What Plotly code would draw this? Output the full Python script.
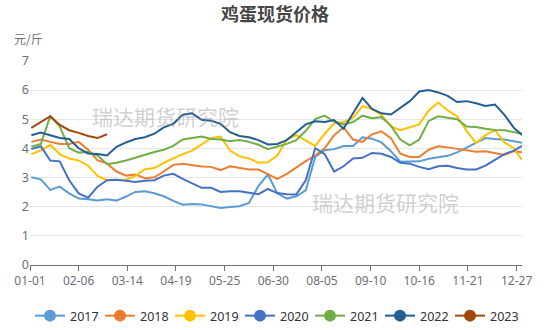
import plotly.graph_objects as go

# ---- data (weekly readings, day-of-year index; 0 = 01-01) ----
days = [1, 8, 15, 22, 29, 36, 43, 50, 57, 64, 71, 78, 85, 92, 99, 106, 113, 120, 127, 134,
        141, 148, 155, 162, 169, 176, 183, 190, 197, 204, 211, 218, 225, 232, 239, 246, 253,
        260, 267, 274, 281, 288, 295, 302, 309, 316, 323, 330, 337, 344, 351, 358, 364]

y2017 = [3.0, 2.93, 2.57, 2.68, 2.45, 2.27, 2.25, 2.2, 2.25, 2.2, 2.34, 2.5, 2.52, 2.45, 2.35,
         2.19, 2.06, 2.08, 2.07, 2.0, 1.95, 1.98, 2.01, 2.12, 2.7, 3.1, 2.45, 2.27, 2.35, 2.55,
         3.7, 3.93, 3.97, 4.08, 4.08, 4.38, 4.33, 4.2, 3.9, 3.54, 3.54, 3.55, 3.64, 3.7, 3.74,
         3.86, 4.02, 4.2, 4.35, 4.32, 4.3, 4.24, 4.19]
y2018 = [4.22, 4.3, 4.22, 4.15, 4.15, 4.22, 3.95, 3.58, 3.48, 3.2, 3.06, 3.1, 2.97, 3.0, 3.2,
         3.43, 3.47, 3.43, 3.37, 3.36, 3.25, 3.38, 3.32, 3.27, 3.27, 3.1, 2.95, 3.12, 3.35, 3.56,
         3.75, 4.0, 4.45, 4.72, 4.3, 4.22, 4.48, 4.58, 4.35, 3.81, 3.7, 3.7, 3.95, 4.07, 4.03,
         3.98, 3.93, 3.88, 3.9, 3.83, 3.77, 3.9, 3.86]
y2019 = [3.8, 3.93, 4.12, 3.8, 3.65, 3.58, 3.4, 3.05, 2.9, 2.92, 2.92, 3.05, 3.28, 3.32, 3.5,
         3.65, 3.8, 3.92, 4.12, 4.35, 4.4, 3.92, 3.72, 3.65, 3.5, 3.52, 3.75, 4.3, 4.45, 4.25,
         4.08, 4.5, 4.85, 4.9, 5.05, 5.45, 5.35, 5.15, 4.75, 4.62, 4.72, 4.82, 5.3, 5.57, 5.3,
         5.1, 4.6, 4.18, 4.45, 4.62, 4.2, 4.0, 3.6]
y2020 = [3.97, 4.07, 3.58, 3.55, 2.9, 2.45, 2.3, 2.68, 2.9, 2.92, 2.88, 2.84, 2.88, 2.9, 3.06,
         3.12, 2.95, 2.8, 2.64, 2.64, 2.5, 2.52, 2.52, 2.47, 2.42, 2.6, 2.46, 2.42, 2.41, 2.9,
         4.0, 3.8, 3.2, 3.38, 3.65, 3.67, 3.84, 3.81, 3.7, 3.5, 3.47, 3.36, 3.28, 3.38, 3.4,
         3.32, 3.27, 3.27, 3.4, 3.6, 3.8, 3.92, 4.08]
y2021 = [4.05, 4.15, 5.1, 4.75, 4.0, 3.85, 3.87, 3.75, 3.45, 3.5, 3.58, 3.68, 3.78, 3.87, 3.95,
         4.08, 4.3, 4.35, 4.4, 4.32, 4.3, 4.24, 4.28, 4.22, 4.12, 3.97, 4.05, 4.15, 4.28, 4.6,
         5.0, 5.12, 4.92, 4.82, 4.9, 5.12, 5.03, 5.07, 4.78, 4.3, 4.1, 4.3, 4.94, 5.1, 5.05,
         5.0, 4.75, 4.73, 4.67, 4.63, 4.62, 4.55, 4.5]
y2022 = [4.45, 4.54, 4.45, 4.35, 4.32, 4.0, 3.82, 3.8, 3.75, 4.05, 4.2, 4.32, 4.38, 4.5, 4.72,
         4.84, 5.15, 5.2, 4.98, 4.95, 4.84, 4.55, 4.42, 4.38, 4.28, 4.13, 4.15, 4.28, 4.55, 4.82,
         4.93, 4.9, 4.97, 4.67, 5.2, 5.73, 5.35, 5.2, 5.16, 5.4, 5.62, 5.95, 6.0, 5.92, 5.8,
         5.59, 5.62, 5.55, 5.45, 5.5, 5.15, 4.7, 4.46]
y2023 = [4.7, 4.9, 5.1, 4.8, 4.62, 4.53, 4.42, 4.35, 4.48]

series_names = ["2017", "2018", "2019", "2020", "2021", "2022", "2023"]
series_values = [y2017, y2018, y2019, y2020, y2021, y2022, y2023]
colors = ["#5B9BD5", "#ED7D31", "#FFC000", "#4472C4", "#70AD47", "#255E91", "#9E480E"]

tick_days = [0, 36, 72, 108, 144, 180, 216, 252, 288, 324, 360]
tick_labels = ["01-01", "02-06", "03-14", "04-19", "05-25", "06-30",
               "08-05", "09-10", "10-16", "11-21", "12-27"]

CJK = "Noto Sans CJK SC, Noto Sans, sans-serif"
LAT = "Noto Sans, Liberation Sans, sans-serif"
GRAY = "#6E7079"

fig = go.Figure()
for name, vals, col in zip(series_names, series_values, colors):
    fig.add_trace(go.Scatter(x=days[:len(vals)], y=vals, mode="lines", name=name,
                             line=dict(color=col, width=2), showlegend=False,
                             hoverinfo="skip"))
# legend entries (line + circle icon)
for name, col in zip(series_names, colors):
    fig.add_trace(go.Scatter(x=[None], y=[None], mode="lines+markers", name=name,
                             line=dict(color=col, width=2),
                             marker=dict(color=col, size=12)))

fig.update_layout(
    width=550, height=330,
    margin=dict(l=30, r=28, t=61, b=52),
    paper_bgcolor="white", plot_bgcolor="white",
    font=dict(family=LAT, size=12, color=GRAY),
    title=dict(text="<b>鸡蛋现货价格</b>", x=0.5, xanchor="center",
               y=1 - 15 / 330, yanchor="middle",
               font=dict(family=CJK, size=18, color="#464646")),
    xaxis=dict(range=[0, 364], tickmode="array", tickvals=tick_days, ticktext=tick_labels,
               showgrid=False, zeroline=False, showline=True, linecolor=GRAY, linewidth=1,
               ticks="outside", ticklen=5, tickcolor=GRAY,
               tickfont=dict(family=LAT, size=12, color=GRAY)),
    yaxis=dict(range=[0, 7], dtick=1, showgrid=True, gridcolor="#E6E6E6", gridwidth=1,
               zeroline=False, showline=False, ticks="",
               tickfont=dict(family=LAT, size=12.5, color=GRAY)),
    legend=dict(orientation="h", xref="container", yref="container",
                x=0.5, xanchor="center", y=14 / 330, yanchor="middle",
                itemwidth=30, tracegroupgap=0,
                entrywidth=25, entrywidthmode="pixels",
                font=dict(family=LAT, size=12.5, color="#333333"),
                bgcolor="rgba(0,0,0,0)"),
    showlegend=True,
)

fig.add_annotation(text="元/斤", xref="paper", yref="paper", x=-18 / 492, y=1 + 24 / 217,
                   xanchor="left", yanchor="middle", showarrow=False,
                   font=dict(family=CJK, size=12, color=GRAY))
for wx, wy in [(165, 120), (385, 211)]:
    fig.add_annotation(text="瑞达期货研究院", xref="paper", yref="paper",
                       x=(wx - 30) / 492, y=(278 - wy) / 217,
                       xanchor="center", yanchor="middle", showarrow=False,
                       font=dict(family=CJK, size=21, color="rgba(150,150,150,0.45)"))

fig.write_html("out.html")
